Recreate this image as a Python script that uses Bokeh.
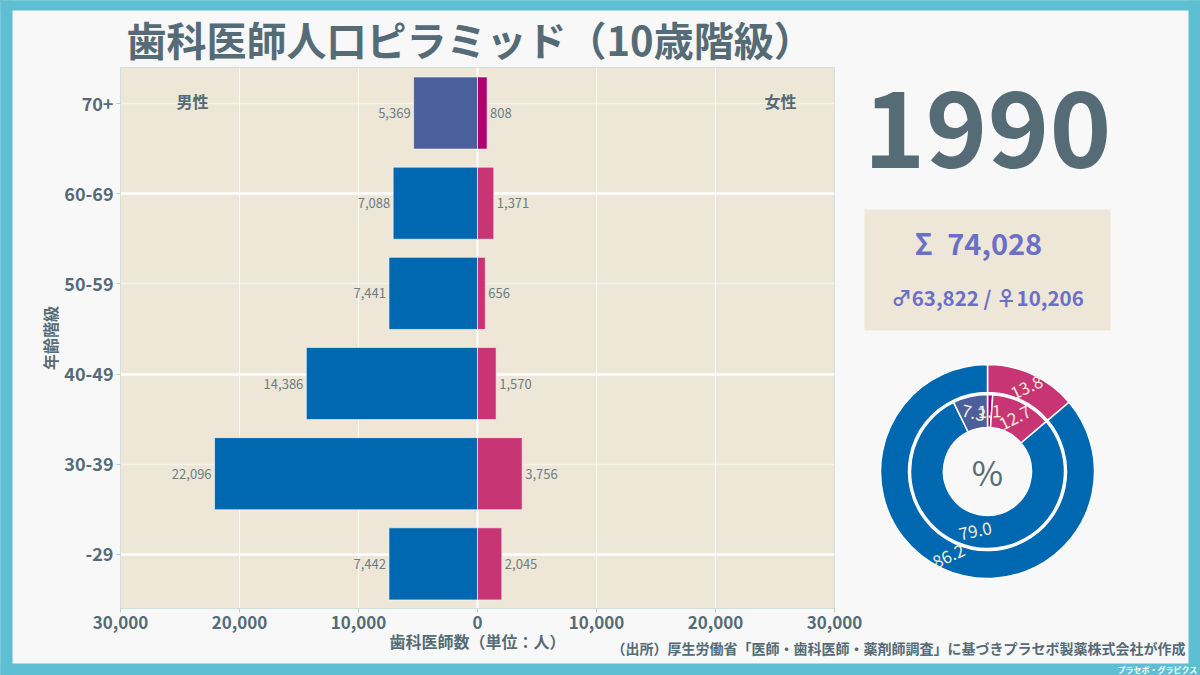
import math
from bokeh.plotting import figure
from bokeh.models import (Range1d, FixedTicker, Grid, Span, GridBox,
                          GlobalInlineStyleSheet, ColumnDataSource)
from bokeh.core.properties import value
from bokeh.embed import file_html
from bokeh.resources import INLINE

# ---------------- data ----------------
TITLE = "歯科医師人口ピラミッド（10歳階級）"
YEAR = "1990"
age_groups = ["-29", "30-39", "40-49", "50-59", "60-69", "70+"]
male = [7442, 22096, 14386, 7441, 7088, 5369]
female = [2045, 3756, 1570, 656, 1371, 808]
highlight_group = "70+"
x_ticks = [-30000, -20000, -10000, 0, 10000, 20000, 30000]
male_label = "男性"
female_label = "女性"
x_title = "歯科医師数（単位：人）"
y_title = "年齢階級"
source_note = "（出所）厚生労働省「医師・歯科医師・薬剤師調査」に基づきプラセボ製薬株式会社が作成"
credit = "プラセボ・グラピクス"

# ---------------- styles ----------------
FONT_NAME = "Noto Sans CJK JP"
FONT = value(FONT_NAME)
C_MALE = "#0067b1"
C_FEMALE = "#c83574"
C_MALE_HL = "#4b5f9c"
C_FEMALE_HL = "#b0006b"
C_TAN = "#eee7d7"
C_BG = "#f8f8f8"
C_CYAN = "#5fbfd2"
C_TEXT = "#556b76"
C_VAL = "#6c7c86"
C_SUM = "#6a6fc8"
W, H = 1200, 675

hi = age_groups.index(highlight_group)
n = len(age_groups)
male_colors = [C_MALE_HL if i == hi else C_MALE for i in range(n)]
female_colors = [C_FEMALE_HL if i == hi else C_FEMALE for i in range(n)]
ypos = [i - 0.105 for i in range(n)]

src = ColumnDataSource(dict(
    y=ypos,
    mleft=[-m for m in male],
    fright=female,
    mcol=male_colors,
    fcol=female_colors,
    mtxt=[f"{m:,}" for m in male],
    ftxt=[f"{f:,}" for f in female],
))

# ---------------- main pyramid ----------------
p = figure(width=W, height=H, x_range=Range1d(-30000, 30000), y_range=Range1d(-0.6, n - 0.6),
           output_backend="svg", toolbar_location=None, frame_align=False,
           min_border_left=120, min_border_right=366, min_border_top=67, min_border_bottom=67,
           background_fill_color=C_TAN, border_fill_color=C_BG, outline_line_color=None)

p.xaxis.ticker = FixedTicker(ticks=x_ticks)
p.xaxis.major_label_overrides = {t: f"{abs(t):,}" for t in x_ticks}
p.yaxis.ticker = FixedTicker(ticks=list(range(n)))
p.yaxis.major_label_overrides = {i: a for i, a in enumerate(age_groups)}
for ax in (p.xaxis, p.yaxis):
    ax.axis_line_color = None
    ax.major_tick_line_color = "#c8c8c8"
    ax.major_tick_in = 0
    ax.major_tick_out = 4
    ax.minor_tick_line_color = None
    ax.major_label_text_font = FONT_NAME
    ax.major_label_text_font_style = "bold"
    ax.major_label_text_color = C_TEXT
    ax.axis_label_text_font = FONT_NAME
    ax.axis_label_text_font_style = "bold"
    ax.axis_label_text_color = C_TEXT
    ax.axis_label_text_font_size = "16px"
p.xaxis.major_label_text_font_size = "17px"
p.xaxis.major_label_standoff = 3
p.xaxis.axis_label = x_title
p.xaxis.axis_label_standoff = -3
p.yaxis.major_label_text_font_size = "18px"
p.yaxis.major_label_standoff = 3
p.yaxis.axis_label = y_title
p.yaxis.axis_label_standoff = -1

p.xgrid.ticker = FixedTicker(ticks=x_ticks)
p.xgrid.grid_line_color = "white"
p.xgrid.grid_line_alpha = 0.8
p.xgrid.grid_line_width = 1
p.ygrid.visible = False
p.add_layout(Grid(dimension=1, ticker=FixedTicker(ticks=[0, 2, 4]),
                  grid_line_color="white", grid_line_width=2.5))
p.add_layout(Grid(dimension=1, ticker=FixedTicker(ticks=[1, 3, 5]),
                  grid_line_color="white", grid_line_width=1.5, grid_line_alpha=0.5))
p.add_layout(Span(location=0, dimension="height", line_color="white", line_width=2, level="underlay"))

p.hbar(y="y", left="mleft", right=0, height=0.8, fill_color="mcol",
       line_color="white", line_alpha=0.6, line_width=1, source=src)
p.hbar(y="y", left=0, right="fright", height=0.8, fill_color="fcol",
       line_color="white", line_alpha=0.6, line_width=1, source=src)
p.text(x="mleft", y="y", text="mtxt", x_offset=-3, text_align="right", text_baseline="middle",
       text_font=FONT, text_font_size="13px", text_color=C_VAL, source=src)
p.text(x="fright", y="y", text="ftxt", x_offset=3, text_align="left", text_baseline="middle",
       text_font=FONT, text_font_size="13px", text_color=C_VAL, source=src)

# ---------------- overlay (pixel space, y up) ----------------
o = figure(width=W, height=H, x_range=Range1d(0, W), y_range=Range1d(0, H),
           output_backend="svg", toolbar_location=None, frame_align=False,
           min_border=0, min_border_left=0, min_border_right=0, min_border_top=0, min_border_bottom=0,
           x_axis_location=None, y_axis_location=None, outline_line_color=None,
           background_fill_alpha=0, border_fill_alpha=0)
o.xgrid.visible = False
o.ygrid.visible = False

# cyan frame strips
o.quad(left=[0, W - 12, 0, 0], right=[12, W, W, W], bottom=[0, 0, 0, H - 10], top=[H, H, 12, H],
       fill_color=C_CYAN, line_color=None)

# title
o.text(x=[126], y=[637], text=[TITLE], text_align="left", text_baseline="middle",
       text_font=FONT, text_font_style="bold", text_font_size="40px", text_color=C_TEXT)
# sex labels
o.text(x=[192, 780], y=[575, 575], text=[male_label, female_label], text_align="center",
       text_baseline="middle", text_font=FONT, text_font_style="bold", text_font_size="16px",
       text_color=C_TEXT)
# year
o.text(x=[987], y=[547], text=[YEAR], text_align="center", text_baseline="middle",
       text_font=FONT, text_font_style="bold", text_font_size="105px", text_color=C_TEXT)
# summary box
tot_m, tot_f = sum(male), sum(female)
total = tot_m + tot_f
o.quad(left=[864], right=[1110], bottom=[345], top=[466], fill_color=C_TAN, line_color=None)
o.text(x=[978], y=[434], text=[f"Σ\u2002{total:,}"], text_align="center", text_baseline="middle",
       text_font=FONT, text_font_style="bold", text_font_size="29px", text_color=C_SUM)
o.text(x=[987], y=[379], text=[f"♂{tot_m:,} / ♀{tot_f:,}"], text_align="center",
       text_baseline="middle", text_font=FONT, text_font_style="bold", text_font_size="20.5px",
       text_color=C_SUM)

# donut
CX, CY = 987, 204


def ring(vals, cols, r_in, r_out):
    cum = 0
    d = dict(s=[], e=[], c=cols, lx=[], ly=[], a=[], t=[])
    r_lab = (r_in + r_out) / 2
    for v in vals:
        th0 = cum / total * 2 * math.pi
        cum += v
        th1 = cum / total * 2 * math.pi
        d["s"].append(math.pi / 2 - th0)
        d["e"].append(math.pi / 2 - th1)
        mid = (th0 + th1) / 2
        d["lx"].append(CX + r_lab * math.sin(mid))
        d["ly"].append(CY + r_lab * math.cos(mid))
        deg = math.degrees(mid) % 180
        if deg > 90:
            deg -= 180
        d["a"].append(math.radians(deg))
        d["t"].append(f"{v / total * 100:.1f}")
    s = ColumnDataSource(d)
    o.annular_wedge(x=CX, y=CY, inner_radius=r_in, outer_radius=r_out, start_angle="s",
                    end_angle="e", direction="clock", fill_color="c", line_color="white",
                    line_width=1.5, source=s)
    return s


outer_vals = [tot_f, tot_m]
outer_cols = [C_FEMALE, C_MALE]
inner_vals = [female[hi], tot_f - female[hi], tot_m - male[hi], male[hi]]
inner_cols = [C_FEMALE_HL, C_FEMALE, C_MALE, C_MALE_HL]
s_out = ring(outer_vals, outer_cols, 79, 107)
s_in = ring(inner_vals, inner_cols, 44, 77)
for s in (s_out, s_in):
    o.text(x="lx", y="ly", text="t", angle="a", text_align="center", text_baseline="middle",
           text_font=FONT, text_font_size="17px", text_color="#f3ecd6", source=s)
o.text(x=[CX], y=[CY], text=["%"], text_align="center", text_baseline="middle",
       text_font=FONT, text_font_size="34px", text_color=C_TEXT)

# source and credit
o.text(x=[1185], y=[28], text=[source_note], text_align="right", text_baseline="middle",
       text_font=FONT, text_font_style="bold", text_font_size="14px", text_color=C_TEXT)
o.text(x=[1197], y=[6], text=[credit], text_align="right", text_baseline="middle",
       text_font=FONT, text_font_style="bold", text_font_size="8px", text_color="white")

layout = GridBox(children=[(p, 0, 0), (o, 0, 0)],
                 stylesheets=[GlobalInlineStyleSheet(css="html, body { background-color: #5fbfd2; }")])

open("out.html", "w").write(file_html(layout, INLINE))
